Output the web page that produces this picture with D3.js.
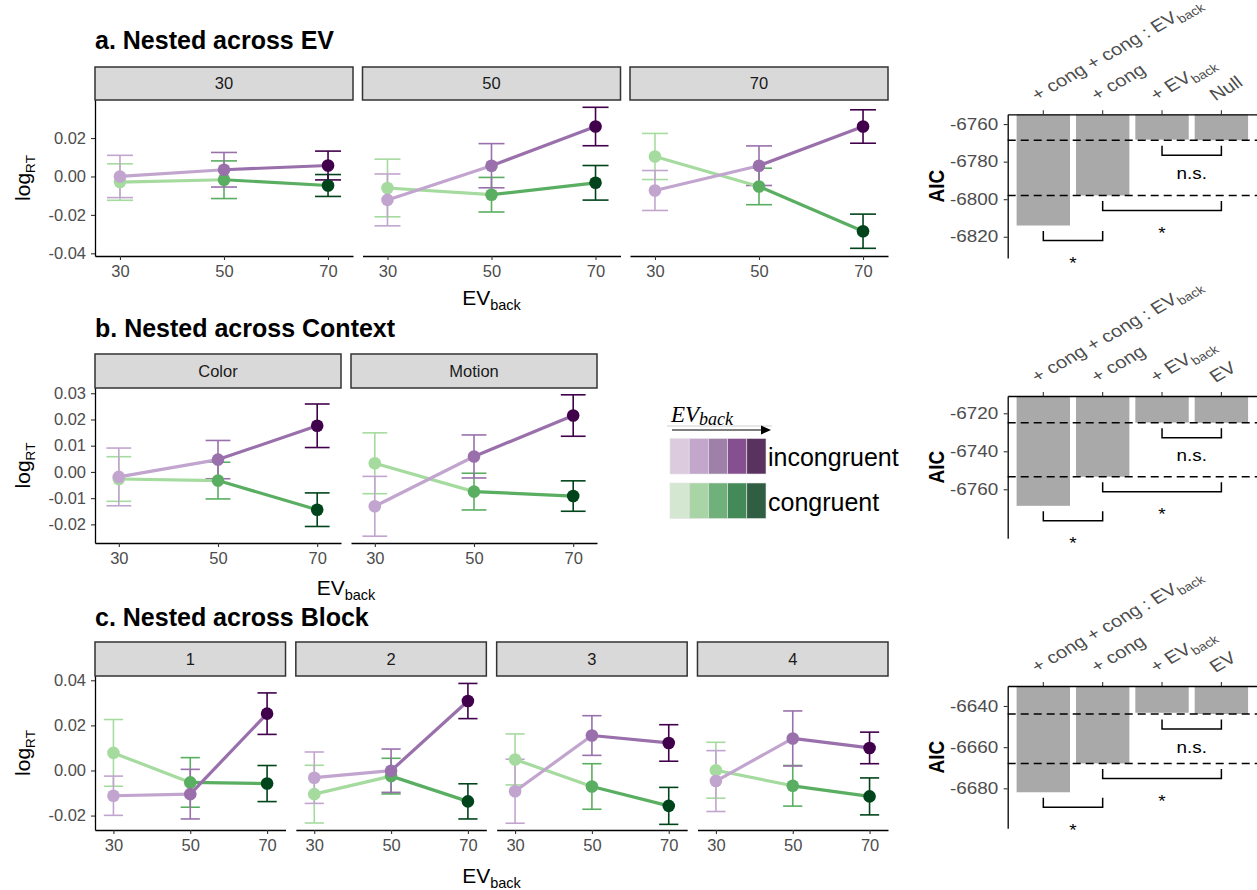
<!DOCTYPE html>
<html>
<head>
<meta charset="utf-8">
<script src="https://cdn.jsdelivr.net/npm/d3@7"></script>
<style>
  body { margin: 0; background: #fff; }
  text { font-family: "Liberation Sans", Arial, Helvetica, sans-serif; }
</style>
</head>
<body>
<div id="chart"></div>
<script>
const width = 1257, height = 890;

// shared
const evBack = [30, 50, 70];
const incongColors = ["#c2a5cf", "#9970ab", "#40004b"];
const congColors = ["#a6dba0", "#5aae61", "#00441b"];

// a. nested across EV
const facetsEV = ["30", "50", "70"];
const incongEV = [[0.0000, 0.0035, 0.0057], [-0.0122, 0.0056, 0.0260], [-0.0073, 0.0056, 0.0260]];
const incongEVse = [[0.0110, 0.0090, 0.0075], [0.0135, 0.0115, 0.0100], [0.0104, 0.0103, 0.0087]];
const congEV = [[-0.0029, -0.0017, -0.0047], [-0.0060, -0.0095, -0.0033], [0.0104, -0.0052, -0.0285]];
const congEVse = [[0.0095, 0.0098, 0.0057], [0.0150, 0.0090, 0.0090], [0.0120, 0.0095, 0.0089]];
const ticksEV = [-0.04, -0.02, 0.00, 0.02];

// b. nested across context
const facetsContext = ["Color", "Motion"];
const incongContext = [[-0.0019, 0.0047, 0.0176], [-0.0131, 0.0059, 0.0215]];
const incongContextSe = [[0.0110, 0.0073, 0.0083], [0.0114, 0.0082, 0.0079]];
const congContext = [[-0.0027, -0.0033, -0.0144], [0.0033, -0.0075, -0.0092]];
const congContextSe = [[0.0085, 0.0070, 0.0064], [0.0116, 0.0070, 0.0058]];
const ticksContext = [-0.02, -0.01, 0.00, 0.01, 0.02, 0.03];

// c. nested across block
const facetsBlock = ["1", "2", "3", "4"];
const incongBlock = [[-0.0112, -0.0105, 0.0252], [-0.0032, -0.0001, 0.0308], [-0.0092, 0.0155, 0.0122], [-0.0047, 0.0142, 0.0100]];
const incongBlockSe = [[0.0087, 0.0110, 0.0092], [0.0114, 0.0096, 0.0078], [0.0142, 0.0088, 0.0081], [0.0135, 0.0122, 0.0070]];
const congBlock = [[0.0078, -0.0053, -0.0058], [-0.0105, -0.0025, -0.0137], [0.0049, -0.0071, -0.0157], [0.0001, -0.0068, -0.0115]];
const congBlockSe = [[0.0148, 0.0110, 0.0080], [0.0128, 0.0079, 0.0078], [0.0113, 0.0101, 0.0082], [0.0124, 0.0090, 0.0082]];
const ticksBlock = [-0.02, 0.00, 0.02, 0.04];

// AIC model comparison
const aicModelsEV = ["+ cong + cong : EV_back", "+ cong", "+ EV_back", "Null"];
const aicModels = ["+ cong + cong : EV_back", "+ cong", "+ EV_back", "EV"];
const aicEV = [-6814.0, -6798.0, -6768.3, -6768.6];
const aicContext = [-6768.7, -6753.4, -6724.9, -6725.0];
const aicBlock = [-6681.9, -6667.9, -6643.3, -6643.9];
const aicTicksEV = [-6820, -6800, -6780, -6760];
const aicTicksContext = [-6760, -6740, -6720];
const aicTicksBlock = [-6680, -6660, -6640];
const sigPairs = [[2, 3], [1, 3], [0, 1]];
const sigLabels = ["n.s.", "*", "*"];

// legend swatches
const legendIncong = ["#dccbde", "#c2a6cb", "#9f80a9", "#864f8f", "#5a325f"];
const legendCong = ["#d3e7d1", "#a9d4a6", "#70b07a", "#438a58", "#2f5e43"];

const svg = d3.select("#chart").append("svg")
  .attr("width", width).attr("height", height)
  .attr("viewBox", [0, 0, width, height]);

function subText(sel, main, sub, subSize, shift) { // main text + subscript
  sel.append("tspan").text(main);
  if (sub) sel.append("tspan").attr("font-size", subSize).attr("dy", shift).text(sub);
  return sel;
}

function styleAxis(ax, fs) {
  ax.attr("font-size", fs);
  ax.select(".domain").attr("stroke", "#000").attr("stroke-width", 1.3);
  ax.selectAll(".tick line").attr("stroke", "#333").attr("stroke-width", 1.1);
  ax.selectAll(".tick text").attr("fill", "#4d4d4d");
}

function facetPanel(p) {
  const g = svg.append("g");
  const n = p.facets.length;
  const w = (p.right - p.left - p.gap * (n - 1)) / n;
  const y = d3.scaleLinear().domain(p.yDomain).range([p.bottom, p.top]);

  g.append("text").attr("x", p.left).attr("y", p.titleY)
    .attr("font-size", 25).attr("font-weight", "bold").text(p.title);

  // y title
  subText(g.append("text")
    .attr("transform", `translate(23,${(p.top + p.bottom) / 2}) rotate(-90)`)
    .attr("text-anchor", "middle").attr("dy", "0.35em").attr("font-size", 21), "log", "RT", 13.5, 5);

  // x title
  subText(g.append("text").attr("x", (p.left + p.right) / 2).attr("y", p.xTitleY)
    .attr("text-anchor", "middle").attr("font-size", 21), "EV", "back", 14.5, 5);

  p.facets.forEach((f, i) => {
    const x0 = p.left + i * (w + p.gap);
    const x = d3.scaleLinear().domain([25.2, 74.8]).range([x0, x0 + w]);

    g.append("rect").attr("x", x0).attr("y", p.top - p.stripH)
      .attr("width", w).attr("height", p.stripH)
      .attr("fill", "#d9d9d9").attr("stroke", "#333").attr("stroke-width", 1.5);
    g.append("text").attr("x", x0 + w / 2).attr("y", p.top - p.stripH / 2)
      .attr("dy", "0.35em").attr("text-anchor", "middle")
      .attr("font-size", 16.5).attr("fill", "#1a1a1a").text(f);

    const ax = g.append("g").attr("transform", `translate(0,${p.bottom})`)
      .call(d3.axisBottom(x).tickValues(evBack).tickSize(4).tickSizeOuter(0).tickPadding(5).tickFormat(d3.format("d")));
    styleAxis(ax, 16.5);

    if (i === 0) {
      const ay = g.append("g").attr("transform", `translate(${x0},0)`)
        .call(d3.axisLeft(y).tickValues(p.yTicks).tickSize(4).tickSizeOuter(0).tickPadding(5).tickFormat(d => d.toFixed(2)));
      styleAxis(ay, 16.5);
    }

    const series = [
      { m: p.cong[i], se: p.congSe[i], col: congColors },
      { m: p.incong[i], se: p.incongSe[i], col: incongColors }
    ];
    const cap = 2.5; // half width of error bar caps, in EV units

    series.forEach(s => {
      s.m.forEach((v, j) => {
        const ev = evBack[j], c = s.col[j];
        const lo = y(v - s.se[j]), hi = y(v + s.se[j]);
        g.append("line").attr("x1", x(ev)).attr("x2", x(ev)).attr("y1", lo).attr("y2", hi)
          .attr("stroke", c).attr("stroke-width", 1.6);
        [lo, hi].forEach(yy => g.append("line")
          .attr("x1", x(ev - cap)).attr("x2", x(ev + cap)).attr("y1", yy).attr("y2", yy)
          .attr("stroke", c).attr("stroke-width", 1.6));
      });
    });
    series.forEach(s => {
      d3.pairs(d3.range(3)).forEach(([a, b]) => {
        g.append("line")
          .attr("x1", x(evBack[a])).attr("y1", y(s.m[a]))
          .attr("x2", x(evBack[b])).attr("y2", y(s.m[b]))
          .attr("stroke", s.col[a]).attr("stroke-width", 3.2);
      });
    });
    series.forEach(s => {
      g.selectAll(null).data(s.m).join("circle")
        .attr("cx", (d, j) => x(evBack[j])).attr("cy", d => y(d))
        .attr("r", 6.3).attr("fill", (d, j) => s.col[j]);
    });
  });
}

facetPanel({ title: "a. Nested across EV", titleY: 49, facets: facetsEV,
  incong: incongEV, incongSe: incongEVse, cong: congEV, congSe: congEVse,
  left: 95, right: 888, gap: 9.5, top: 100, bottom: 256, stripH: 33,
  yDomain: [-0.0414, 0.0398], yTicks: ticksEV, xTitleY: 305 });

facetPanel({ title: "b. Nested across Context", titleY: 337, facets: facetsContext,
  incong: incongContext, incongSe: incongContextSe, cong: congContext, congSe: congContextSe,
  left: 95, right: 597, gap: 10, top: 388, bottom: 543, stripH: 34,
  yDomain: [-0.0271, 0.032], yTicks: ticksContext, xTitleY: 595 });

facetPanel({ title: "c. Nested across Block", titleY: 626, facets: facetsBlock,
  incong: incongBlock, incongSe: incongBlockSe, cong: congBlock, congSe: congBlockSe,
  left: 95, right: 888, gap: 10.3, top: 676, bottom: 830, stripH: 34,
  yDomain: [-0.0264, 0.0419], yTicks: ticksBlock, xTitleY: 883 });

// AIC panels (the original is stretched horizontally)
const sx = 1.18;
function aicPanel(p) {
  const g = svg.append("g");
  const x = d3.scaleBand().domain(d3.range(p.values.length)).range([1007.7, 1257])
    .paddingInner(0.1).paddingOuter(0.15);
  const y = d3.scaleLinear().domain(p.domain).range([p.bottom, p.top]);
  const cx = i => x(i) + x.bandwidth() / 2;

  g.selectAll(null).data(p.values).join("rect")
    .attr("x", (d, i) => x(i)).attr("width", x.bandwidth())
    .attr("y", y(p.domain[1])).attr("height", d => y(d) - y(p.domain[1]))
    .attr("fill", "#a9a9a9");

  [p.values[3], p.values[1]].forEach(v => g.append("line")
    .attr("x1", 1007.7).attr("x2", 1257).attr("y1", y(v)).attr("y2", y(v))
    .attr("stroke", "#000").attr("stroke-width", 1.4).attr("stroke-dasharray", "8,5"));

  const ay = g.append("g").attr("transform", "translate(1007.7,0)")
    .call(d3.axisLeft(y).tickValues(p.ticks).tickSize(4).tickSizeOuter(0).tickPadding(4).tickFormat(d3.format("d")));
  styleAxis(ay, 16);
  ay.selectAll(".tick text").attr("transform", `scale(${sx},1)`).text(d => String(d));

  const ax = g.append("g").attr("transform", `translate(0,${p.top})`)
    .call(d3.axisTop(x).tickSize(4).tickSizeOuter(0).tickFormat(""));
  styleAxis(ax, 16);

  p.models.forEach((m, i) => {
    const parts = m.split("_");
    subText(g.append("text")
      .attr("transform", `translate(${cx(i) - 6},${p.top - 13}) scale(${sx},1) rotate(-34)`)
      .attr("font-size", 17).attr("fill", "#4d4d4d"), parts[0], parts[1], 12, 4);
  });

  g.append("text")
    .attr("transform", `translate(936,${(p.top + p.bottom) / 2}) scale(${sx},1) rotate(-90)`)
    .attr("text-anchor", "middle").attr("dy", "0.35em")
    .attr("font-size", 19).attr("font-weight", "bold").text("AIC");

  sigPairs.forEach(([a, b], k) => {
    const t = y(Math.min(p.values[a], p.values[b])) + 5.5, h = t + 9.5;
    g.append("path")
      .attr("d", `M${cx(a)},${t}V${h}H${cx(b)}V${t}`)
      .attr("fill", "none").attr("stroke", "#000").attr("stroke-width", 1.5);
    g.append("text")
      .attr("transform", `translate(${(cx(a) + cx(b)) / 2},${h + (sigLabels[k] === "*" ? 28.5 : 23.5)}) scale(${sx},1)`)
      .attr("text-anchor", "middle").attr("font-size", 16).text(sigLabels[k]);
  });
}

aicPanel({ values: aicEV, models: aicModelsEV, ticks: aicTicksEV, domain: [-6831.3, -6754.8], top: 114.3, bottom: 258 });
aicPanel({ values: aicContext, models: aicModels, ticks: aicTicksContext, domain: [-6785.8, -6710.9], top: 396, bottom: 538.3 });
aicPanel({ values: aicBlock, models: aicModels, ticks: aicTicksBlock, domain: [-6699.4, -6630.3], top: 686, bottom: 828.3 });

// colour legend
const serif = "'Liberation Serif', 'DejaVu Serif', serif";
const lg = svg.append("g");
const evTitle = lg.append("text").attr("x", 671).attr("y", 422)
  .attr("font-style", "italic").attr("font-size", 23).style("font-family", serif);
subText(evTitle, "EV", "back", 18, 3);
lg.append("line").attr("x1", 667).attr("x2", 772).attr("y1", 426).attr("y2", 426)
  .attr("stroke", "#d0d0d0").attr("stroke-width", 1);
lg.append("line").attr("x1", 672).attr("x2", 763).attr("y1", 430).attr("y2", 430)
  .attr("stroke", "#7f7f7f").attr("stroke-width", 2);
lg.append("path").attr("d", "M761,425.5L771,430L761,434.5Z").attr("fill", "#000");

[[legendIncong, 438.5, "incongruent"], [legendCong, 483, "congruent"]].forEach(([cols, y0, lab]) => {
  lg.selectAll(null).data(cols).join("rect")
    .attr("x", (d, i) => 670 + i * 19.2).attr("y", y0)
    .attr("width", 19.2).attr("height", 35.5).attr("fill", d => d)
    .attr("stroke", "#e4e4e4").attr("stroke-width", 0.6);
  lg.append("text").attr("x", 768).attr("y", y0 + 27.5)
    .attr("font-size", 25).attr("fill", "#000").text(lab);
});
</script>
</body>
</html>
